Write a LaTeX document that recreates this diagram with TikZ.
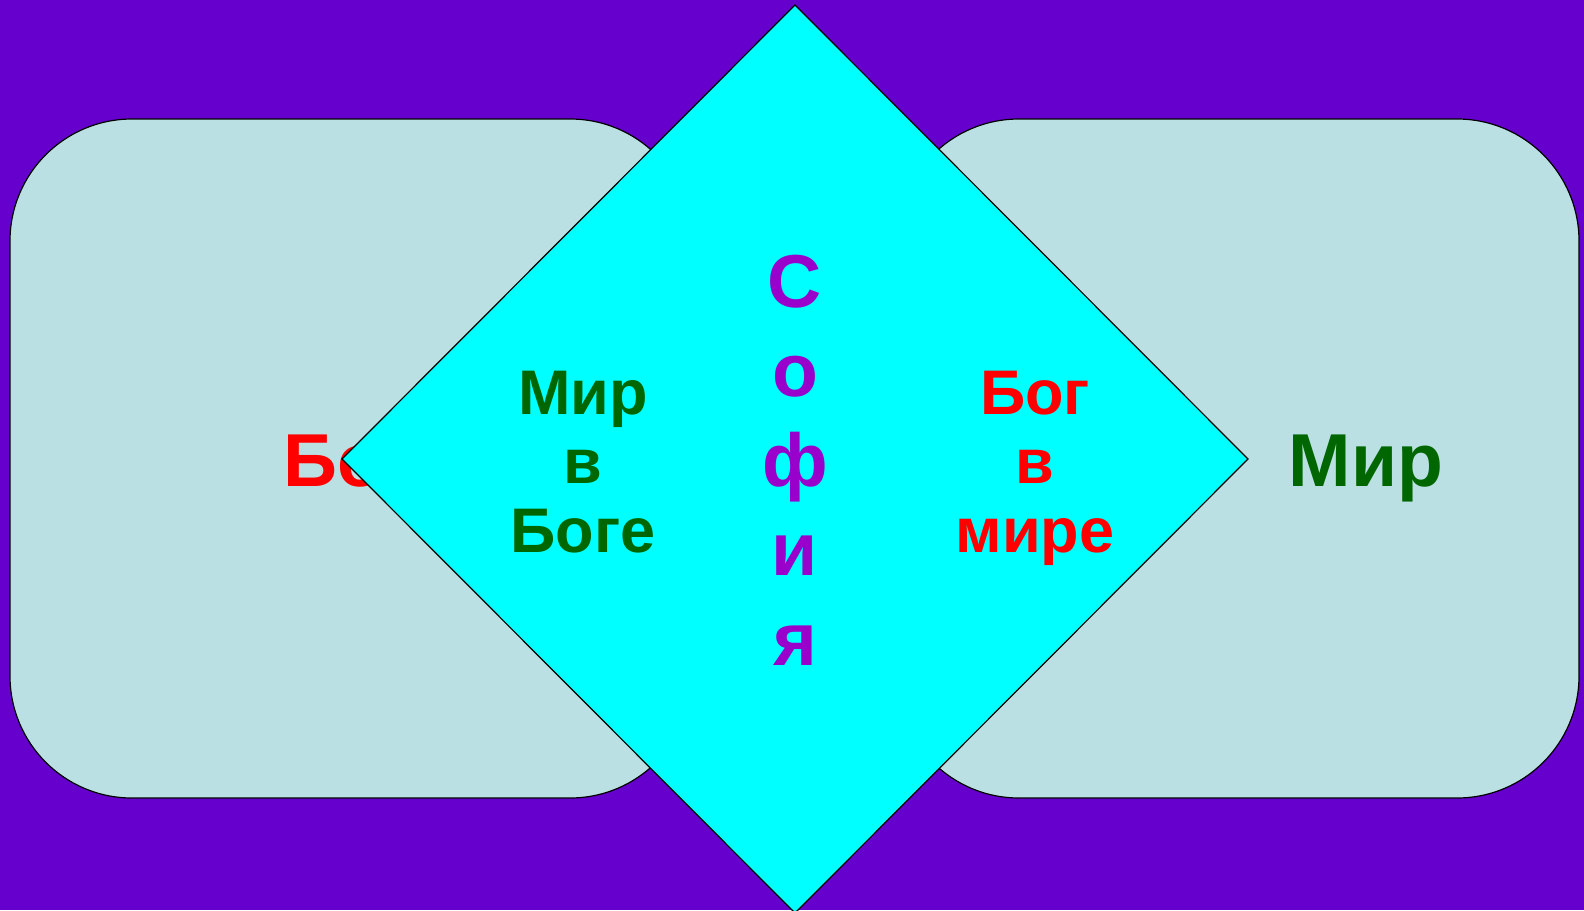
\documentclass[tikz,border=0pt]{standalone}
\usepackage{fontspec}
\setmainfont{Liberation Sans}
\definecolor{bgpurple}{HTML}{6600CC}
\definecolor{panelblue}{HTML}{BBE0E3}
\definecolor{sofiapurple}{HTML}{9900CC}
\definecolor{darkgreen}{HTML}{006600}
\definecolor{brightred}{HTML}{FF0000}
\definecolor{cyanfill}{HTML}{00FFFF}
\tikzset{
  panel/.style={draw=black, line width=1.2pt, fill=panelblue, rounded corners=122pt},
  rhomb/.style={draw=black, line width=1.2pt, fill=cyanfill, line join=miter},
  bigword/.style={font=\fontsize{75}{90}\selectfont\bfseries, inner sep=0pt, anchor=base},
  midword/.style={font=\fontsize{63}{69}\selectfont\bfseries, inner sep=0pt, anchor=base, align=center},
  sofia/.style={font=\fontsize{75}{89.5}\selectfont\bfseries, inner sep=0pt, anchor=base, align=center, text=sofiapurple}
}
\begin{document}
\begin{tikzpicture}[x=1pt,y=-1pt]
\useasboundingbox (0,0) rectangle (1584,910);
\fill[bgpurple] (0,0) rectangle (1584,910);
% panels
\draw[panel] (10,119) rectangle (692,798);
\draw[panel] (897,119) rectangle (1579,798);
\node[bigword, anchor=base west, text=brightred] (god) at (283.5,486) {Бог};
\node[bigword, text=darkgreen] (world) at (1366,486) {Мир};
% diamond
\coordinate (dtop) at (795,5);
\coordinate (dright) at (1248,459);
\coordinate (dbottom) at (795,913);
\coordinate (dleft) at (342,459);
\draw[rhomb] (dtop) -- (dright) -- (dbottom) -- (dleft) -- cycle;
% inner texts (anchor = baseline of last line)
\node[midword, text=darkgreen] (worldingod) at (583,552) {Мир\\в\\Боге};
\node[midword, text=brightred] (godinworld) at (1035,552) {Бог\\в\\мире};
\node[sofia] (sophia) at (795,665) {С\\о\\ф\\и\\я};
\end{tikzpicture}
\end{document}
